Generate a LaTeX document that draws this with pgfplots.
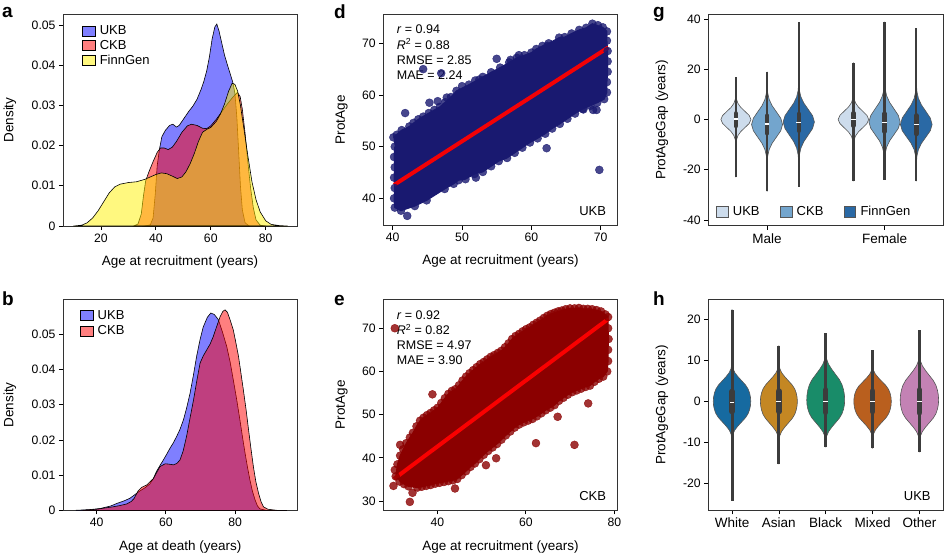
\documentclass[border=0pt]{standalone}
\usepackage{fontspec}
\setmainfont{Liberation Sans}
\usepackage{pgfplots}
\usepackage{pgfplotstable}
\pgfplotsset{compat=1.18}

\definecolor{ukbv}{RGB}{205,220,236}
\definecolor{ckbv}{RGB}{115,165,205}
\definecolor{fgv}{RGB}{42,105,165}
\definecolor{hWc}{RGB}{22,106,160}
\definecolor{hAc}{RGB}{196,135,35}
\definecolor{hBc}{RGB}{25,140,105}
\definecolor{hMc}{RGB}{185,95,30}
\definecolor{hOc}{RGB}{195,130,180}
\definecolor{boxc}{RGB}{60,60,60}
\definecolor{vedge}{RGB}{85,85,85}
\definecolor{navyc}{RGB}{25,25,112}
\definecolor{dredc}{RGB}{139,0,0}

\newcommand{\tfont}{\fontsize{13.5}{16}\selectfont}
\newcommand{\lfont}{\fontsize{13}{15}\selectfont}

\pgfplotsset{
  base/.style={
    scale only axis, anchor=north west,
    axis line style={black!80, line width=0.7pt},
    tick style={black, line width=0.7pt},
    tick align=outside, tick pos=left, major tick length=4pt,
    font=\fontsize{12.2}{14}\selectfont,
    label style={font=\tfont},
    /pgf/number format/assume math mode=true,
    legend cell align=left,
  },
  sqlegend/.style={
    legend image code/.code={\draw[##1, line width=0.6pt] (0pt,-5pt) rectangle (13pt,5pt);}
  },
}

\newcommand{\violin}[4]{%
  \addplot[fill=#4, draw=vedge, line width=0.6pt, forget plot] table[x expr={#2+\thisrow{w}}, y=y]{#3};
  \addplot[fill=#4, draw=vedge, line width=0.6pt, forget plot] table[x expr={#2-\thisrow{w}}, y=y]{#3};
}
% center, min, q1, med, q3, max, whisker width, box width
\newcommand{\vbx}[8]{%
  \addplot[boxc, line width=#7, forget plot] coordinates {(#1,#2) (#1,#6)};
  \addplot[boxc, line width=#8, line cap=round, forget plot] coordinates {(#1,#3) (#1,#5)};
  \addplot[only marks, mark=-, mark size=2.4pt, mark options={white, line width=1.4pt}, forget plot] coordinates {(#1,#4)};
}

\begin{document}

\pgfplotstableread{
y w
-23 0
-11.2 0.0003
-9.6 0.0014
-8 0.0056
-6.4 0.0173
-4.8 0.0416
-3.2 0.0776
-1.6 0.1130
0 0.128
1.6 0.1130
3.2 0.0776
4.8 0.0416
6.4 0.0173
8 0.0056
9.6 0.0014
11.2 0.0003
16.8 0
}\gUM
\pgfplotstableread{
y w
-28.6 0
-19.5 0.0003
-17 0.0015
-14.5 0.0058
-12 0.0179
-9.5 0.0429
-7 0.0801
-4.5 0.1165
-2 0.132
0.5 0.1165
3 0.0801
5.5 0.0429
8 0.0179
10.5 0.0058
13 0.0015
15.5 0.0003
19 0
}\gCM
\pgfplotstableread{
y w
-26.7 0
-19.2 0.0003
-16.6 0.0015
-14 0.0058
-11.4 0.0180
-8.8 0.0432
-6.2 0.0807
-3.6 0.1174
-1 0.133
1.5 0.1174
4 0.0807
6.5 0.0432
9 0.0180
11.5 0.0058
14 0.0015
16.5 0.0003
38.7 0
}\gFM
\pgfplotstableread{
y w
-24.5 0
-11.55 0.0003
-9.9 0.0014
-8.25 0.0057
-6.6 0.0176
-4.95 0.0422
-3.3 0.0788
-1.65 0.1147
0 0.13
1.65 0.1147
3.3 0.0788
4.95 0.0422
6.6 0.0176
8.25 0.0057
9.9 0.0014
11.55 0.0003
22.6 0
}\gUF
\pgfplotstableread{
y w
-24.1 0
-18.5 0.0003
-16 0.0015
-13.5 0.0058
-11 0.0180
-8.5 0.0432
-6 0.0807
-3.5 0.1174
-1 0.133
1.6 0.1174
4.2 0.0807
6.8 0.0432
9.4 0.0180
12 0.0058
14.6 0.0015
17.2 0.0003
38.9 0
}\gCF
\pgfplotstableread{
y w
-24.5 0
-19.5 0.0003
-17 0.0015
-14.5 0.0059
-12 0.0183
-9.5 0.0438
-7 0.0819
-4.5 0.1191
-2 0.135
0.6 0.1191
3.2 0.0819
5.8 0.0438
8.4 0.0183
11 0.0059
13.6 0.0015
16.2 0.0003
36.3 0
}\gFF

\pgfplotstableread{
y w
-24.3 0
-10 0.0016
-9 0.006
-8 0.02
-7 0.06
-6 0.128
-5 0.208
-4 0.288
-3 0.344
-2 0.376
-1 0.394
0 0.40
1 0.394
2 0.376
3 0.344
4 0.288
5 0.208
6 0.128
7 0.06
8 0.02
9 0.006
10 0.0016
22.4 0
}\hW
\pgfplotstableread{
y w
-15.3 0
-10.5 0.0016
-9.45 0.006
-8.4 0.020
-7.35 0.059
-6.3 0.126
-5.25 0.205
-4.2 0.284
-3.15 0.340
-2.1 0.371
-1.05 0.389
0 0.395
1 0.389
2 0.371
3 0.340
4 0.284
5 0.205
6 0.126
7 0.059
8 0.020
9 0.006
10 0.0016
13.6 0
}\hA
\pgfplotstableread{
y w
-11.2 0
-10.7 0.0016
-9.6 0.006
-8.5 0.020
-7.4 0.061
-6.3 0.130
-5.2 0.211
-4.1 0.292
-3.0 0.348
-1.9 0.381
-0.8 0.399
0.3 0.405
1.55 0.399
2.8 0.381
4.05 0.348
5.3 0.292
6.55 0.211
7.8 0.130
9.05 0.061
10.3 0.020
11.55 0.006
12.8 0.0016
16.6 0
}\hB
\pgfplotstableread{
y w
-11.5 0
-10 0.0016
-9 0.006
-8 0.02
-7 0.06
-6 0.128
-5 0.208
-4 0.288
-3 0.344
-2 0.376
-1 0.394
0 0.40
0.95 0.394
1.9 0.376
2.85 0.344
3.8 0.288
4.75 0.208
5.7 0.128
6.65 0.06
7.6 0.02
8.55 0.006
9.5 0.0016
12.5 0
}\hM
\pgfplotstableread{
y w
-12.4 0
-10.7 0.0016
-9.6 0.006
-8.5 0.0205
-7.4 0.0615
-6.3 0.131
-5.2 0.213
-4.1 0.295
-3.0 0.353
-1.9 0.385
-0.8 0.404
0.3 0.41
1.5 0.404
2.7 0.385
3.9 0.353
5.1 0.295
6.3 0.213
7.5 0.131
8.7 0.0615
9.9 0.0205
11.1 0.006
12.3 0.0016
17.4 0
}\hO

\begin{tikzpicture}
\path[use as bounding box] (0,0) rectangle (944pt,-556pt);

% ---------------- panel a ----------------
\begin{axis}[base, sqlegend, at={(63pt,-14pt)}, width=234pt, height=212pt,
  xmin=6.2, xmax=91.4, ymin=0, ymax=0.0527,
  xtick={20,40,60,80}, ytick={0,0.01,0.02,0.03,0.04,0.05},
  scaled y ticks=false,
  yticklabel style={/pgf/number format/fixed, /pgf/number format/precision=2},
  xlabel={Age at recruitment (years)}, ylabel={Density},
  xlabel style={at={(axis description cs:0.5,-0.168)}, anchor=center},
  ylabel style={at={(axis description cs:-0.2265,0.5)}, anchor=center},
  legend style={at={(0.081,0.945)}, anchor=north west, draw=none, fill=none, inner sep=0pt,
    row sep=4pt, font=\lfont, nodes={inner xsep=4pt, inner ysep=0pt}},
]
\addplot[fill=blue, fill opacity=0.5, draw=black, line width=0.6pt] coordinates {
(36,0) (38,0.0003) (39,0.002) (39.8,0.008) (40.5,0.015) (41.3,0.019) (42.2,0.0222) (43.5,0.0238) (45,0.025) (46.2,0.0253) (47.5,0.0246) (48.5,0.025) (50,0.0265) (52,0.0285) (53.5,0.0298) (55,0.0315) (56.5,0.034) (57.5,0.036) (58.5,0.0385) (59.5,0.042) (60.5,0.0465) (61.5,0.0495) (62.2,0.0502) (63,0.0485) (64,0.0455) (65,0.0425) (66,0.0402) (67,0.038) (68,0.0358) (68.8,0.033) (69.5,0.027) (70.2,0.018) (70.8,0.010) (71.5,0.004) (72.5,0.0008) (74,0)
} \closedcycle;
\addlegendentry{UKB}
\addplot[fill=red, fill opacity=0.5, draw=black, line width=0.6pt] coordinates {
(32,0) (33.5,0.0005) (34.7,0.003) (35.5,0.0075) (36.3,0.0112) (37.5,0.0135) (39,0.016) (40.5,0.0183) (41.7,0.0194) (43,0.0194) (44.5,0.019) (46,0.0196) (47.5,0.021) (49.5,0.0233) (51.5,0.0249) (53,0.0253) (55,0.025) (57,0.0243) (58.5,0.0242) (60,0.0249) (62,0.0265) (64,0.0284) (66,0.0303) (68,0.032) (69.7,0.0332) (70.7,0.0322) (71.5,0.029) (72.5,0.023) (73.5,0.016) (74.5,0.0095) (75.5,0.0045) (76.5,0.0015) (78,0.0002) (80,0)
} \closedcycle;
\addlegendentry{CKB}
\addplot[fill=yellow, fill opacity=0.5, draw=black, line width=0.6pt] coordinates {
(10,0) (13,0.0002) (15,0.0008) (17,0.002) (19,0.0038) (21,0.006) (23,0.0082) (25,0.0097) (27,0.0104) (30,0.0108) (33,0.011) (36,0.0116) (38,0.0122) (40,0.0128) (42,0.0132) (44,0.013) (46,0.0124) (47.8,0.0118) (49.5,0.0122) (51,0.0135) (52.5,0.0155) (54,0.018) (55.5,0.021) (57,0.0233) (58.5,0.024) (60,0.0245) (62,0.026) (63.5,0.0278) (65,0.0303) (66.5,0.0335) (67.8,0.0355) (68.8,0.0352) (69.8,0.0335) (70.8,0.030) (72,0.0245) (73.5,0.0175) (75,0.011) (76.5,0.0065) (78,0.0035) (80,0.0013) (82,0.0004) (85,0.0001) (88,0)
} \closedcycle;
\addlegendentry{FinnGen}
\end{axis}

% ---------------- panel b ----------------
\begin{axis}[base, sqlegend, at={(63pt,-299.3pt)}, width=234.7pt, height=211pt,
  xmin=30.3, xmax=98.1, ymin=0, ymax=0.0599,
  xtick={40,60,80}, ytick={0,0.01,0.02,0.03,0.04,0.05},
  scaled y ticks=false,
  yticklabel style={/pgf/number format/fixed, /pgf/number format/precision=2},
  xlabel={Age at death (years)}, ylabel={Density},
  xlabel style={at={(axis description cs:0.5,-0.1725)}, anchor=center},
  ylabel style={at={(axis description cs:-0.2265,0.5)}, anchor=center},
  legend style={at={(0.072,0.948)}, anchor=north west, draw=none, fill=none, inner sep=0pt,
    row sep=4.5pt, font=\lfont, nodes={inner xsep=4pt, inner ysep=0pt}},
]
\addplot[fill=blue, fill opacity=0.5, draw=black, line width=0.6pt] coordinates {
(34,0) (38,0.0002) (41,0.0005) (44,0.0012) (46,0.002) (48,0.0027) (49.6,0.0034) (51,0.0044) (52.5,0.0055) (54,0.0064) (55.4,0.0075) (56.4,0.009) (57.3,0.011) (58.3,0.0127) (59.3,0.0143) (60.3,0.016) (61.2,0.0176) (62.2,0.0192) (63.1,0.0209) (64.1,0.023) (65.1,0.0257) (66,0.029) (67,0.0332) (68,0.0385) (68.9,0.0437) (69.9,0.0485) (70.8,0.052) (72,0.0548) (73,0.056) (74,0.0556) (75.2,0.0541) (76.4,0.0505) (77.6,0.0465) (78.6,0.042) (79.5,0.037) (80.5,0.0313) (81.4,0.0257) (82.2,0.0205) (82.9,0.0162) (83.6,0.0122) (84.3,0.0086) (85,0.0055) (85.8,0.0029) (86.5,0.0012) (87.2,0.0004) (89,0) (95,0)
} \closedcycle;
\addlegendentry{UKB}
\addplot[fill=red, fill opacity=0.5, draw=black, line width=0.6pt] coordinates {
(36,0) (40,0.0003) (42,0.0006) (44.8,0.001) (46.5,0.0013) (48.7,0.0018) (50,0.0025) (50.8,0.0033) (52,0.0055) (53,0.0065) (54.5,0.0072) (56.4,0.009) (58.3,0.0124) (59.8,0.0132) (61,0.0131) (62.2,0.0129) (63.2,0.0133) (64.1,0.0143) (65,0.0168) (66,0.021) (67,0.0262) (68,0.0313) (69,0.037) (69.9,0.0418) (70.8,0.0438) (71.8,0.0455) (72.8,0.0472) (73.7,0.0493) (74.7,0.0522) (75.7,0.055) (76.5,0.0565) (77.1,0.0569) (77.8,0.0562) (78.6,0.054) (79.5,0.0512) (80.2,0.0478) (81,0.0437) (81.7,0.039) (82.4,0.0342) (83.2,0.0285) (83.9,0.0229) (84.6,0.0175) (85.3,0.0124) (86,0.0082) (86.8,0.0048) (87.5,0.0025) (88.2,0.001) (89.5,0.0003) (92,0) (95,0)
} \closedcycle;
\addlegendentry{CKB}
\end{axis}

% ---------------- panel d ----------------
\begin{axis}[base, at={(383.3pt,-14pt)}, width=234.4pt, height=211.7pt,
  xmin=38.65, xmax=72.45, ymin=34.7, ymax=75.67,
  xtick={40,50,60,70}, ytick={40,50,60,70},
  xlabel={Age at recruitment (years)}, ylabel={ProtAge},
  xlabel style={at={(axis description cs:0.5,-0.168)}, anchor=center},
  ylabel style={at={(axis description cs:-0.1775,0.5)}, anchor=center},
]
\addplot[fill=navyc, draw=navyc, line width=1pt] coordinates {
(40.1,51.8) (41.3,53.2) (42.4,53.9) (43.7,55.3) (45.2,56.5) (46.8,57.7) (48.4,59.6) (49.2,60.8) (51,62) (53,63.5) (54.2,64.4) (55.5,65.3) (56.8,66.3) (57.9,67.2) (59,67.7) (60,68.2) (60.7,68.9) (61.6,69.5) (62.5,70) (64,71.1) (64.8,71.2) (65.8,71.9) (66.9,72.6) (67.9,73) (68.8,73.8) (70.3,73.1) (70.9,72.3)
(70.9,70.5) (71,68.5) (71,66.5) (71,64.5) (70.9,62.5) (70.9,60.5) (70.5,59.2)
(69.5,58.5) (68.5,57.9) (67.4,57.3) (66.3,56.4) (65.2,55.4) (64.1,54.4) (63,53.5) (62,52.5) (60.9,51.6) (59.8,50.8) (58.7,49.8) (57.6,48.8) (56.5,47.8) (55.3,47.2) (54.2,46.2) (53,45.1) (51.8,44.7) (50.5,43.7) (49.5,43.5) (48.8,42.8) (47.5,41.8) (44.9,39.6) (43.2,38.5) (41.2,37.6) (40.3,38.2)
(40.2,40) (40.3,42) (40.2,44) (40.3,46) (40.2,48) (40.3,50)
};
\addplot[only marks, mark=*, mark size=4pt, navyc, opacity=0.8] coordinates {
(40.1,51.8) (40.6,52.3) (41.3,53.2) (41.8,56.5) (42.4,53.9) (43,54.6) (43.7,55.3) (44.4,55.8) (44.4,65) (45.2,56.5) (46,57.1) (46.8,57.7) (47,64.2) (47.6,58.6) (48.4,59.6) (45.3,58.5) (46.5,58.8) (43.5,54) (50,61.7) (51.9,62.8) (52.5,63) (49.2,60.8) (55,67) (57,66.8) (58.2,67.7) (60.7,68.9) (61.6,69.5) (62.5,70) (64,71.1) (64.8,71.2) (65.8,71.9) (66.9,72.6) (67.9,73) (68.8,73.8) (69.6,73.5) (70.3,73.1) (70.9,72.3) (62.3,69.5) (51,62) (47.8,59.5) (53,63.5) (54.2,64.4) (55.5,65.3) (56.8,66.3) (57.9,67.2) (59,67.7) (60,68.2)
(62.2,49.7) (69.8,45.5) (69.4,57.1) (42.1,36.6) (48.8,42.8) (49.5,43.5) (52,44) (47.5,41.8) (44.9,39.6) (43.2,38.5) (41.2,37.6) (40.3,38.2) (40.2,40) (40.3,42) (40.2,44) (40.3,46) (40.2,48) (40.3,50) (50.5,43.7) (51.8,44.7) (53,45.1) (54.2,46.2) (55.3,47.2) (56.5,47.8) (57.6,48.8) (58.7,49.8) (59.8,50.8) (60.9,51.6) (62,52.5) (63,53.5) (64.1,54.4) (65.2,55.4) (66.3,56.4) (67.4,57.3) (68.5,57.9) (69.5,58.5) (70.5,59.2) (70.9,60.5) (70.9,62.5) (71,64.5) (71,66.5) (71,68.5) (70.9,70.5) (67.5,57.2) (68.9,57.1)
};
\addplot[red, line width=4pt, opacity=0.95] coordinates {(40.2,42.6) (71.1,69.2)};
\node[anchor=north west, align=left, inner sep=0pt, font=\fontsize{12.5}{15.2}\selectfont] at (rel axis cs:0.057,0.948)
  {\textit{r} = 0.94\\\textit{R}\textsuperscript{2} = 0.88\\RMSE = 2.85\\MAE = 2.24};
\node[font=\lfont] at (rel axis cs:0.893,0.071) {UKB};
\end{axis}

% ---------------- panel e ----------------
\begin{axis}[base, at={(383.3pt,-299.3pt)}, width=234.4pt, height=211pt,
  xmin=27.8, xmax=80.77, ymin=27.85, ymax=76.7,
  xtick={40,60,80}, ytick={30,40,50,60,70},
  xlabel={Age at recruitment (years)}, ylabel={ProtAge},
  xlabel style={at={(axis description cs:0.5,-0.1725)}, anchor=center},
  ylabel style={at={(axis description cs:-0.1775,0.5)}, anchor=center},
]
\addplot[fill=dredc, draw=dredc, line width=1pt] coordinates {
(30.6,35.7) (31,38.5) (31.6,40.5) (32.3,42) (33,43.4) (33.8,44.7) (34.5,45.8) (35.3,47.3) (36.1,48.6) (36.9,49.3) (37.7,49.9) (38.5,50.4) (39.3,51) (40.1,51.6) (40.9,52.7) (41.7,53.8) (42.5,54.8) (43.3,55.5) (44.1,55.9) (44.9,56.8) (45.7,57.9) (46.5,58.8) (47.3,59.6) (48.1,60.3) (48.9,61) (49.7,61.7) (50.5,62.2) (51.3,62.8) (52.1,63.4) (52.9,63.8) (53.7,64.3) (54.5,64.8) (55.3,65.6) (56.1,66.5) (56.9,67.5) (57.7,68.2) (58.5,68.7) (59.3,69.3) (60.1,69.8) (60.9,70.2) (61.7,70.8) (62.5,71.3) (63.3,71.8) (64.1,72.4) (64.9,72.9) (65.7,73.3) (66.5,73.6) (67.3,73.9) (68.1,74.1) (69,74.4) (70,74.6) (71,74.6) (72,74.7) (73,74.5) (74,74.5) (75,74.4) (76,74.2) (77,73.9) (78,73.2) (78.6,72.6)
(78.6,70) (78.7,67.5) (78.6,65) (78.6,62.4) (78.4,60) (77.5,58.8) (76.5,58.3) (75.5,57.6) (74.5,56.7) (73.5,56.4) (72.5,56) (71.5,55.6) (70.5,55.2) (69.5,54.6) (68.5,53.9) (67.5,53.2) (66.5,52.2) (65.5,51.6) (64.5,51) (63.5,50.3) (62.5,49.6) (61.5,49) (60.5,48.6) (59.5,48.2) (58.5,47.7) (57.5,47) (56.5,46.1) (55.5,45.2) (54.5,44.2) (53.5,43.2) (52.5,42.4) (51.5,41.6) (50.5,40.7) (49.5,39.7) (48.5,38.7) (47.5,37.9) (46.5,36.9) (45.5,36) (44.5,35.1) (43.5,34.8) (42.5,34.6) (41.5,34.4) (40.5,34.2) (39.5,34) (38.5,33.7) (37.5,33.5) (36.5,33.3) (35.5,33.1) (33.5,33.4) (32.5,33.9) (31.5,34.5)
};
\addplot[only marks, mark=*, mark size=4pt, dredc, opacity=0.8] coordinates {
(30.4,70) (31,38.5) (31.6,40.5) (32.3,42) (33,43.4) (33.8,44.7) (34.5,45.8) (35.3,47.3) (36.1,48.6) (36.9,49.3) (37.7,49.9) (38.5,50.4) (38.9,54.7) (39.3,51) (40.1,51.6) (40.9,52.7) (41.7,53.8) (42.5,54.8) (43.3,55.5) (44.1,55.9) (44.9,56.8) (45.7,57.9) (46.5,58.8) (47.3,59.6) (48.1,60.3) (48.9,61) (49.7,61.7) (50.5,62.2) (51.3,62.8) (52.1,63.4) (52.9,63.8) (53.7,64.3) (54.5,64.8) (55.3,65.6) (56.1,66.5) (56.9,67.5) (57.7,68.2) (58.5,68.7) (59.3,69.3) (60.1,69.8) (60.9,70.2) (61.7,70.8) (62.5,71.3) (63.3,71.8) (64.1,72.4) (64.9,72.9) (65.7,73.3) (66.5,73.6) (67.3,73.9) (68.1,74.1) (69,74.4) (70,74.6) (71,74.6) (72,74.7) (73,74.5) (74,74.5) (75,74.4) (76,74.2) (77,73.9) (78,73.2) (78.6,72.6)
(78.6,70) (78.7,67.5) (78.6,65) (78.6,62.4) (78.4,60) (77.5,58.8) (76.5,58.3) (75.5,57.6) (74.5,56.7) (74.1,52.6) (73.5,56.4) (72.5,56) (71.5,55.6) (71,43) (70.5,55.2) (69.5,54.6) (68.5,53.9) (67.5,53.2) (67.2,49.5) (66.5,52.2) (65.5,51.6) (64.5,51) (63.5,50.3) (62.5,49.6) (62.3,43.4) (61.5,49) (60.5,48.6) (59.5,48.2) (58.5,47.7) (57.5,47) (56.5,46.1) (55.5,45.2) (54.5,44.2) (53.5,43.2) (53.3,39.9) (52.5,42.4) (51.5,41.6) (51,38.3) (50.5,40.7) (49.5,39.7) (48.5,38.7) (47.5,37.9) (46.5,36.9) (45.5,36) (44.5,35.1) (44,32.9) (43.5,34.8) (42.5,34.6) (41.5,34.4) (40.5,34.2) (39.5,34) (38.5,33.7) (37.5,33.5) (36.5,33.3) (35.5,33.1) (34.4,31.9) (33.8,29.8) (33.5,33.4) (32.5,33.9) (31.6,43) (31.5,34.5) (30.1,33.5) (30.6,35.7) (30.4,37.2)
};
\addplot[red, line width=4pt, opacity=0.95] coordinates {(30.2,35.1) (78.7,72.2)};
\node[anchor=north west, align=left, inner sep=0pt, font=\fontsize{12.5}{15.2}\selectfont] at (rel axis cs:0.057,0.948)
  {\textit{r} = 0.92\\\textit{R}\textsuperscript{2} = 0.82\\RMSE = 4.97\\MAE = 3.90};
\node[font=\lfont] at (rel axis cs:0.893,0.068) {CKB};
\end{axis}

% ---------------- panel g ----------------
\begin{axis}[base, at={(708.3pt,-14pt)}, width=235pt, height=211.7pt,
  xmin=-0.5, xmax=1.5, ymin=-42.3, ymax=42,
  xtick={0,1}, xticklabels={Male,Female}, ytick={-40,-20,0,20,40},
  xticklabel style={font=\tfont},
  ylabel={ProtAgeGap (years)},
  ylabel style={at={(axis description cs:-0.198,0.5)}, anchor=center},
  legend columns=3,
  legend style={at={(0.033,0.068)}, anchor=west, draw=none, fill=none, inner sep=0pt,
    font=\lfont, nodes={inner xsep=4.5pt, inner ysep=0pt},
    /tikz/every even column/.append style={column sep=16pt}},
  legend image code/.code={\draw[#1, line width=0.6pt] (0pt,-5.5pt) rectangle (11.5pt,5.5pt);},
]
\addlegendimage{fill=ukbv, draw=vedge}
\addlegendentry{UKB}
\addlegendimage{fill=ckbv, draw=vedge}
\addlegendentry{CKB}
\addlegendimage{fill=fgv, draw=vedge}
\addlegendentry{FinnGen}
\violin{gum}{-0.265}{\gUM}{ukbv}
\violin{gcm}{0}{\gCM}{ckbv}
\violin{gfm}{0.27}{\gFM}{fgv}
\violin{guf}{0.735}{\gUF}{ukbv}
\violin{gcf}{1}{\gCF}{ckbv}
\violin{gff}{1.27}{\gFF}{fgv}
\vbx{-0.265}{-23}{-2.6}{0.2}{2.4}{16.8}{2.3pt}{4.5pt}
\vbx{0}{-28.6}{-5.5}{-1.8}{1.5}{19}{2.3pt}{4.5pt}
\vbx{0.27}{-26.7}{-4.5}{-1.2}{2.2}{38.7}{2.3pt}{4.5pt}
\vbx{0.735}{-24.5}{-2.5}{0}{2.5}{22.6}{2.3pt}{4.5pt}
\vbx{1}{-24.1}{-4.8}{-1.2}{2.3}{38.9}{2.3pt}{4.5pt}
\vbx{1.27}{-24.5}{-5.8}{-2}{1.6}{36.3}{2.3pt}{4.5pt}
\end{axis}

% ---------------- panel h ----------------
\begin{axis}[base, at={(708.3pt,-299.3pt)}, width=235pt, height=211pt,
  xmin=-0.506, xmax=4.51, ymin=-26.6, ymax=24.9,
  xtick={0,1,2,3,4}, xticklabels={White,Asian,Black,Mixed,Other}, ytick={-20,-10,0,10,20},
  xticklabel style={font=\tfont},
  ylabel={ProtAgeGap (years)},
  ylabel style={at={(axis description cs:-0.198,0.5)}, anchor=center},
]
\violin{hw}{0}{\hW}{hWc}
\violin{ha}{1}{\hA}{hAc}
\violin{hb}{2}{\hB}{hBc}
\violin{hm}{3}{\hM}{hMc}
\violin{ho}{4}{\hO}{hOc}
\vbx{0}{-24.3}{-2.5}{-0.3}{2.4}{22.4}{3pt}{5.5pt}
\vbx{1}{-15.3}{-2.5}{0}{2.5}{13.6}{3pt}{5.5pt}
\vbx{2}{-11.2}{-2.7}{0}{2.8}{16.6}{3pt}{5.5pt}
\vbx{3}{-11.5}{-2.5}{0}{2.5}{12.5}{3pt}{5.5pt}
\vbx{4}{-12.4}{-2.8}{0}{2.8}{17.4}{3pt}{5.5pt}
\node[font=\lfont] at (rel axis cs:0.889,0.068) {UKB};
\end{axis}

% panel letters
\node[anchor=base west, inner sep=0pt, font=\fontsize{19}{19}\selectfont\bfseries] at (2pt,-18pt) {a};
\node[anchor=base west, inner sep=0pt, font=\fontsize{19}{19}\selectfont\bfseries] at (2pt,-305pt) {b};
\node[anchor=base west, inner sep=0pt, font=\fontsize{19}{19}\selectfont\bfseries] at (334pt,-18.3pt) {d};
\node[anchor=base west, inner sep=0pt, font=\fontsize{19}{19}\selectfont\bfseries] at (334pt,-305pt) {e};
\node[anchor=base west, inner sep=0pt, font=\fontsize{19}{19}\selectfont\bfseries] at (653pt,-17.7pt) {g};
\node[anchor=base west, inner sep=0pt, font=\fontsize{19}{19}\selectfont\bfseries] at (653pt,-305pt) {h};
\end{tikzpicture}
\end{document}
